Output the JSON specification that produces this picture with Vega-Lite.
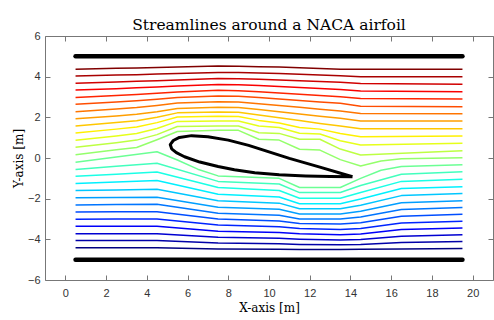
{
"$schema":"https://vega.github.io/schema/vega-lite/v6.json",
"width":448,"height":244,
"autosize":{"type":"none"},
"padding":{"left":45,"top":36,"right":1,"bottom":40},
"title":{"text":"Streamlines around a NACA airfoil","font":"DejaVu Serif","fontSize":15.5,"fontWeight":"normal","color":"#000","anchor":"middle","baseline":"alphabetic","offset":7,"dy":22},
"config":{"view":{"stroke":"#777","strokeWidth":1}},
"data":{"values":[
{"g":"s","k":"u01","x":0.5,"y":4.37},{"g":"s","k":"u01","x":2.5,"y":4.41},{"g":"s","k":"u01","x":3.5,"y":4.43},{"g":"s","k":"u01","x":4.5,"y":4.45},{"g":"s","k":"u01","x":5.5,"y":4.48},{"g":"s","k":"u01","x":7.5,"y":4.52},{"g":"s","k":"u01","x":8.5,"y":4.51},{"g":"s","k":"u01","x":9.5,"y":4.49},{"g":"s","k":"u01","x":10.5,"y":4.47},{"g":"s","k":"u01","x":11.5,"y":4.44},{"g":"s","k":"u01","x":12.5,"y":4.40},{"g":"s","k":"u01","x":13.5,"y":4.37},{"g":"s","k":"u01","x":14.5,"y":4.37},{"g":"s","k":"u01","x":19.5,"y":4.36},
{"g":"s","k":"u02","x":0.5,"y":4.03},{"g":"s","k":"u02","x":2.5,"y":4.08},{"g":"s","k":"u02","x":3.5,"y":4.10},{"g":"s","k":"u02","x":4.5,"y":4.13},{"g":"s","k":"u02","x":5.5,"y":4.16},{"g":"s","k":"u02","x":7.5,"y":4.21},{"g":"s","k":"u02","x":8.5,"y":4.20},{"g":"s","k":"u02","x":9.5,"y":4.18},{"g":"s","k":"u02","x":10.5,"y":4.15},{"g":"s","k":"u02","x":11.5,"y":4.12},{"g":"s","k":"u02","x":12.5,"y":4.08},{"g":"s","k":"u02","x":13.5,"y":4.04},{"g":"s","k":"u02","x":14.5,"y":4.00},{"g":"s","k":"u02","x":19.5,"y":3.99},
{"g":"s","k":"u03","x":0.5,"y":3.68},{"g":"s","k":"u03","x":2.5,"y":3.74},{"g":"s","k":"u03","x":3.5,"y":3.77},{"g":"s","k":"u03","x":4.5,"y":3.80},{"g":"s","k":"u03","x":5.5,"y":3.84},{"g":"s","k":"u03","x":7.5,"y":3.91},{"g":"s","k":"u03","x":8.5,"y":3.90},{"g":"s","k":"u03","x":9.5,"y":3.87},{"g":"s","k":"u03","x":10.5,"y":3.83},{"g":"s","k":"u03","x":11.5,"y":3.80},{"g":"s","k":"u03","x":12.5,"y":3.76},{"g":"s","k":"u03","x":13.5,"y":3.72},{"g":"s","k":"u03","x":14.5,"y":3.67},{"g":"s","k":"u03","x":19.5,"y":3.63},
{"g":"s","k":"u04","x":0.5,"y":3.34},{"g":"s","k":"u04","x":2.5,"y":3.41},{"g":"s","k":"u04","x":3.5,"y":3.45},{"g":"s","k":"u04","x":4.5,"y":3.49},{"g":"s","k":"u04","x":5.5,"y":3.54},{"g":"s","k":"u04","x":7.5,"y":3.62},{"g":"s","k":"u04","x":8.5,"y":3.60},{"g":"s","k":"u04","x":9.5,"y":3.56},{"g":"s","k":"u04","x":10.5,"y":3.52},{"g":"s","k":"u04","x":11.5,"y":3.47},{"g":"s","k":"u04","x":12.5,"y":3.42},{"g":"s","k":"u04","x":13.5,"y":3.37},{"g":"s","k":"u04","x":14.5,"y":3.30},{"g":"s","k":"u04","x":19.5,"y":3.26},
{"g":"s","k":"u05","x":0.5,"y":2.98},{"g":"s","k":"u05","x":2.5,"y":3.07},{"g":"s","k":"u05","x":3.5,"y":3.12},{"g":"s","k":"u05","x":4.5,"y":3.18},{"g":"s","k":"u05","x":5.5,"y":3.25},{"g":"s","k":"u05","x":7.5,"y":3.33},{"g":"s","k":"u05","x":8.5,"y":3.31},{"g":"s","k":"u05","x":9.5,"y":3.26},{"g":"s","k":"u05","x":10.5,"y":3.20},{"g":"s","k":"u05","x":11.5,"y":3.14},{"g":"s","k":"u05","x":12.5,"y":3.07},{"g":"s","k":"u05","x":13.5,"y":3.01},{"g":"s","k":"u05","x":14.5,"y":2.93},{"g":"s","k":"u05","x":19.5,"y":2.90},
{"g":"s","k":"u06","x":0.5,"y":2.64},{"g":"s","k":"u06","x":2.5,"y":2.75},{"g":"s","k":"u06","x":3.5,"y":2.82},{"g":"s","k":"u06","x":4.5,"y":2.89},{"g":"s","k":"u06","x":5.5,"y":2.97},{"g":"s","k":"u06","x":7.5,"y":3.05},{"g":"s","k":"u06","x":8.5,"y":3.04},{"g":"s","k":"u06","x":9.5,"y":2.97},{"g":"s","k":"u06","x":10.5,"y":2.90},{"g":"s","k":"u06","x":11.5,"y":2.83},{"g":"s","k":"u06","x":12.5,"y":2.76},{"g":"s","k":"u06","x":13.5,"y":2.69},{"g":"s","k":"u06","x":14.5,"y":2.55},{"g":"s","k":"u06","x":19.5,"y":2.52},
{"g":"s","k":"u07","x":0.5,"y":2.28},{"g":"s","k":"u07","x":2.5,"y":2.41},{"g":"s","k":"u07","x":3.5,"y":2.48},{"g":"s","k":"u07","x":4.5,"y":2.58},{"g":"s","k":"u07","x":5.5,"y":2.70},{"g":"s","k":"u07","x":7.5,"y":2.77},{"g":"s","k":"u07","x":8.5,"y":2.76},{"g":"s","k":"u07","x":9.5,"y":2.67},{"g":"s","k":"u07","x":10.5,"y":2.58},{"g":"s","k":"u07","x":11.5,"y":2.49},{"g":"s","k":"u07","x":12.5,"y":2.40},{"g":"s","k":"u07","x":13.5,"y":2.31},{"g":"s","k":"u07","x":14.5,"y":2.19},{"g":"s","k":"u07","x":19.5,"y":2.18},
{"g":"s","k":"u08","x":0.5,"y":1.93},{"g":"s","k":"u08","x":2.5,"y":2.07},{"g":"s","k":"u08","x":3.5,"y":2.15},{"g":"s","k":"u08","x":4.5,"y":2.28},{"g":"s","k":"u08","x":5.5,"y":2.44},{"g":"s","k":"u08","x":7.5,"y":2.49},{"g":"s","k":"u08","x":8.5,"y":2.48},{"g":"s","k":"u08","x":9.5,"y":2.38},{"g":"s","k":"u08","x":10.5,"y":2.27},{"g":"s","k":"u08","x":11.5,"y":2.16},{"g":"s","k":"u08","x":12.5,"y":2.05},{"g":"s","k":"u08","x":13.5,"y":1.95},{"g":"s","k":"u08","x":14.5,"y":1.82},{"g":"s","k":"u08","x":19.5,"y":1.82},
{"g":"s","k":"u09","x":0.5,"y":1.57},{"g":"s","k":"u09","x":2.5,"y":1.74},{"g":"s","k":"u09","x":3.5,"y":1.83},{"g":"s","k":"u09","x":4.5,"y":2.00},{"g":"s","k":"u09","x":5.5,"y":2.22},{"g":"s","k":"u09","x":7.5,"y":2.26},{"g":"s","k":"u09","x":8.5,"y":2.25},{"g":"s","k":"u09","x":9.5,"y":2.12},{"g":"s","k":"u09","x":10.5,"y":1.98},{"g":"s","k":"u09","x":11.5,"y":1.84},{"g":"s","k":"u09","x":12.5,"y":1.70},{"g":"s","k":"u09","x":13.5,"y":1.57},{"g":"s","k":"u09","x":14.5,"y":1.44},{"g":"s","k":"u09","x":19.5,"y":1.44},
{"g":"s","k":"u10","x":0.5,"y":1.23},{"g":"s","k":"u10","x":2.5,"y":1.42},{"g":"s","k":"u10","x":3.5,"y":1.52},{"g":"s","k":"u10","x":4.5,"y":1.74},{"g":"s","k":"u10","x":5.5,"y":2.02},{"g":"s","k":"u10","x":7.5,"y":2.05},{"g":"s","k":"u10","x":8.5,"y":2.04},{"g":"s","k":"u10","x":9.5,"y":1.85},{"g":"s","k":"u10","x":10.5,"y":1.72},{"g":"s","k":"u10","x":11.5,"y":1.50},{"g":"s","k":"u10","x":12.5,"y":1.42},{"g":"s","k":"u10","x":13.5,"y":1.21},{"g":"s","k":"u10","x":14.5,"y":1.05},{"g":"s","k":"u10","x":19.5,"y":1.08},
{"g":"s","k":"u11","x":0.5,"y":0.87},{"g":"s","k":"u11","x":2.5,"y":1.08},{"g":"s","k":"u11","x":3.5,"y":1.20},{"g":"s","k":"u11","x":4.5,"y":1.45},{"g":"s","k":"u11","x":5.5,"y":1.80},{"g":"s","k":"u11","x":7.5,"y":1.82},{"g":"s","k":"u11","x":8.5,"y":1.82},{"g":"s","k":"u11","x":9.5,"y":1.57},{"g":"s","k":"u11","x":10.5,"y":1.50},{"g":"s","k":"u11","x":11.5,"y":1.22},{"g":"s","k":"u11","x":12.5,"y":1.18},{"g":"s","k":"u11","x":13.5,"y":0.85},{"g":"s","k":"u11","x":14.5,"y":0.64},{"g":"s","k":"u11","x":19.5,"y":0.72},
{"g":"s","k":"u12","x":0.5,"y":0.53},{"g":"s","k":"u12","x":2.5,"y":0.75},{"g":"s","k":"u12","x":3.5,"y":0.88},{"g":"s","k":"u12","x":4.5,"y":1.15},{"g":"s","k":"u12","x":5.5,"y":1.55},{"g":"s","k":"u12","x":7.5,"y":1.57},{"g":"s","k":"u12","x":8.5,"y":1.57},{"g":"s","k":"u12","x":9.5,"y":1.24},{"g":"s","k":"u12","x":10.5,"y":1.21},{"g":"s","k":"u12","x":11.5,"y":0.92},{"g":"s","k":"u12","x":12.5,"y":0.92},{"g":"s","k":"u12","x":13.5,"y":0.44},{"g":"s","k":"u12","x":14.5,"y":0.15},{"g":"s","k":"u12","x":19.5,"y":0.36},
{"g":"s","k":"u13","x":0.5,"y":0.16},{"g":"s","k":"u13","x":2.5,"y":0.40},{"g":"s","k":"u13","x":3.5,"y":0.52},{"g":"s","k":"u13","x":4.5,"y":0.90},{"g":"s","k":"u13","x":5.5,"y":1.30},{"g":"s","k":"u13","x":7.5,"y":1.36},{"g":"s","k":"u13","x":8.5,"y":1.36},{"g":"s","k":"u13","x":9.5,"y":0.92},{"g":"s","k":"u13","x":10.5,"y":0.88},{"g":"s","k":"u13","x":11.5,"y":0.43},{"g":"s","k":"u13","x":12.5,"y":0.39},{"g":"s","k":"u13","x":13.5,"y":-0.08},{"g":"s","k":"u13","x":14.5,"y":-0.39},{"g":"s","k":"u13","x":15.5,"y":-0.15},{"g":"s","k":"u13","x":16.5,"y":-0.04},{"g":"s","k":"u13","x":19.5,"y":0.01},
{"g":"s","k":"l01","x":0.5,"y":-0.21},{"g":"s","k":"l01","x":2.5,"y":0.05},{"g":"s","k":"l01","x":4.5,"y":0.31},{"g":"s","k":"l01","x":5.5,"y":-0.10},{"g":"s","k":"l01","x":6.5,"y":-0.55},{"g":"s","k":"l01","x":7.5,"y":-0.88},{"g":"s","k":"l01","x":10.5,"y":-1.00},{"g":"s","k":"l01","x":11.5,"y":-1.45},{"g":"s","k":"l01","x":13.5,"y":-1.45},{"g":"s","k":"l01","x":14.5,"y":-1.00},{"g":"s","k":"l01","x":15.5,"y":-0.60},{"g":"s","k":"l01","x":16.5,"y":-0.42},{"g":"s","k":"l01","x":19.5,"y":-0.33},
{"g":"s","k":"l02","x":0.5,"y":-0.56},{"g":"s","k":"l02","x":2.5,"y":-0.41},{"g":"s","k":"l02","x":4.5,"y":-0.26},{"g":"s","k":"l02","x":7.5,"y":-1.15},{"g":"s","k":"l02","x":10.5,"y":-1.28},{"g":"s","k":"l02","x":11.5,"y":-1.70},{"g":"s","k":"l02","x":13.5,"y":-1.70},{"g":"s","k":"l02","x":14.5,"y":-1.35},{"g":"s","k":"l02","x":16.5,"y":-0.80},{"g":"s","k":"l02","x":19.5,"y":-0.68},
{"g":"s","k":"l03","x":0.5,"y":-0.90},{"g":"s","k":"l03","x":2.5,"y":-0.80},{"g":"s","k":"l03","x":4.5,"y":-0.69},{"g":"s","k":"l03","x":7.5,"y":-1.45},{"g":"s","k":"l03","x":10.5,"y":-1.60},{"g":"s","k":"l03","x":11.5,"y":-1.98},{"g":"s","k":"l03","x":13.5,"y":-1.98},{"g":"s","k":"l03","x":14.5,"y":-1.70},{"g":"s","k":"l03","x":16.5,"y":-1.15},{"g":"s","k":"l03","x":19.5,"y":-1.05},
{"g":"s","k":"l04","x":0.5,"y":-1.26},{"g":"s","k":"l04","x":2.5,"y":-1.18},{"g":"s","k":"l04","x":4.5,"y":-1.11},{"g":"s","k":"l04","x":7.5,"y":-1.78},{"g":"s","k":"l04","x":10.5,"y":-1.92},{"g":"s","k":"l04","x":11.5,"y":-2.25},{"g":"s","k":"l04","x":13.5,"y":-2.25},{"g":"s","k":"l04","x":14.5,"y":-2.02},{"g":"s","k":"l04","x":16.5,"y":-1.50},{"g":"s","k":"l04","x":19.5,"y":-1.41},
{"g":"s","k":"l05","x":0.5,"y":-1.60},{"g":"s","k":"l05","x":2.5,"y":-1.57},{"g":"s","k":"l05","x":4.5,"y":-1.54},{"g":"s","k":"l05","x":7.5,"y":-2.10},{"g":"s","k":"l05","x":10.5,"y":-2.22},{"g":"s","k":"l05","x":11.5,"y":-2.50},{"g":"s","k":"l05","x":13.5,"y":-2.50},{"g":"s","k":"l05","x":14.5,"y":-2.32},{"g":"s","k":"l05","x":16.5,"y":-1.85},{"g":"s","k":"l05","x":19.5,"y":-1.75},
{"g":"s","k":"l06","x":0.5,"y":-1.95},{"g":"s","k":"l06","x":2.5,"y":-1.94},{"g":"s","k":"l06","x":4.5,"y":-1.93},{"g":"s","k":"l06","x":7.5,"y":-2.42},{"g":"s","k":"l06","x":10.5,"y":-2.52},{"g":"s","k":"l06","x":11.5,"y":-2.75},{"g":"s","k":"l06","x":13.5,"y":-2.75},{"g":"s","k":"l06","x":14.5,"y":-2.62},{"g":"s","k":"l06","x":16.5,"y":-2.20},{"g":"s","k":"l06","x":19.5,"y":-2.10},
{"g":"s","k":"l07","x":0.5,"y":-2.31},{"g":"s","k":"l07","x":2.5,"y":-2.29},{"g":"s","k":"l07","x":4.5,"y":-2.28},{"g":"s","k":"l07","x":7.5,"y":-2.72},{"g":"s","k":"l07","x":10.5,"y":-2.82},{"g":"s","k":"l07","x":11.5,"y":-3.00},{"g":"s","k":"l07","x":13.5,"y":-3.00},{"g":"s","k":"l07","x":14.5,"y":-2.90},{"g":"s","k":"l07","x":16.5,"y":-2.53},{"g":"s","k":"l07","x":19.5,"y":-2.44},
{"g":"s","k":"l08","x":0.5,"y":-2.65},{"g":"s","k":"l08","x":2.5,"y":-2.64},{"g":"s","k":"l08","x":4.5,"y":-2.64},{"g":"s","k":"l08","x":7.5,"y":-3.00},{"g":"s","k":"l08","x":10.5,"y":-3.10},{"g":"s","k":"l08","x":11.5,"y":-3.22},{"g":"s","k":"l08","x":13.5,"y":-3.25},{"g":"s","k":"l08","x":14.5,"y":-3.18},{"g":"s","k":"l08","x":16.5,"y":-2.87},{"g":"s","k":"l08","x":19.5,"y":-2.77},
{"g":"s","k":"l09","x":0.5,"y":-3.01},{"g":"s","k":"l09","x":2.5,"y":-3.00},{"g":"s","k":"l09","x":4.5,"y":-3.00},{"g":"s","k":"l09","x":7.5,"y":-3.30},{"g":"s","k":"l09","x":10.5,"y":-3.38},{"g":"s","k":"l09","x":11.5,"y":-3.47},{"g":"s","k":"l09","x":13.5,"y":-3.52},{"g":"s","k":"l09","x":14.5,"y":-3.47},{"g":"s","k":"l09","x":16.5,"y":-3.20},{"g":"s","k":"l09","x":19.5,"y":-3.11},
{"g":"s","k":"l10","x":0.5,"y":-3.36},{"g":"s","k":"l10","x":2.5,"y":-3.36},{"g":"s","k":"l10","x":4.5,"y":-3.36},{"g":"s","k":"l10","x":7.5,"y":-3.60},{"g":"s","k":"l10","x":10.5,"y":-3.66},{"g":"s","k":"l10","x":11.5,"y":-3.72},{"g":"s","k":"l10","x":13.5,"y":-3.78},{"g":"s","k":"l10","x":14.5,"y":-3.74},{"g":"s","k":"l10","x":16.5,"y":-3.52},{"g":"s","k":"l10","x":19.5,"y":-3.44},
{"g":"s","k":"l11","x":0.5,"y":-3.72},{"g":"s","k":"l11","x":2.5,"y":-3.72},{"g":"s","k":"l11","x":4.5,"y":-3.72},{"g":"s","k":"l11","x":7.5,"y":-3.90},{"g":"s","k":"l11","x":10.5,"y":-3.95},{"g":"s","k":"l11","x":11.5,"y":-3.99},{"g":"s","k":"l11","x":13.5,"y":-4.03},{"g":"s","k":"l11","x":14.5,"y":-4.01},{"g":"s","k":"l11","x":16.5,"y":-3.85},{"g":"s","k":"l11","x":19.5,"y":-3.78},
{"g":"s","k":"l12","x":0.5,"y":-4.06},{"g":"s","k":"l12","x":2.5,"y":-4.06},{"g":"s","k":"l12","x":4.5,"y":-4.06},{"g":"s","k":"l12","x":7.5,"y":-4.18},{"g":"s","k":"l12","x":10.5,"y":-4.22},{"g":"s","k":"l12","x":11.5,"y":-4.25},{"g":"s","k":"l12","x":13.5,"y":-4.27},{"g":"s","k":"l12","x":14.5,"y":-4.26},{"g":"s","k":"l12","x":16.5,"y":-4.16},{"g":"s","k":"l12","x":19.5,"y":-4.11},
{"g":"s","k":"l13","x":0.5,"y":-4.42},{"g":"s","k":"l13","x":2.5,"y":-4.42},{"g":"s","k":"l13","x":4.5,"y":-4.42},{"g":"s","k":"l13","x":7.5,"y":-4.47},{"g":"s","k":"l13","x":10.5,"y":-4.49},{"g":"s","k":"l13","x":11.5,"y":-4.50},{"g":"s","k":"l13","x":13.5,"y":-4.50},{"g":"s","k":"l13","x":14.5,"y":-4.49},{"g":"s","k":"l13","x":16.5,"y":-4.47},{"g":"s","k":"l13","x":19.5,"y":-4.45},
{"g":"w","k":"w1","x":0.5,"y":5},{"g":"w","k":"w1","x":19.5,"y":5},
{"g":"w","k":"w2","x":0.5,"y":-5},{"g":"w","k":"w2","x":19.5,"y":-5},
{"g":"a","k":"a","o":0,"x":14.1,"y":-0.92},{"g":"a","k":"a","o":1,"x":12.5,"y":-0.45},{"g":"a","k":"a","o":2,"x":11.0,"y":-0.02},{"g":"a","k":"a","o":3,"x":10.0,"y":0.30},{"g":"a","k":"a","o":4,"x":9.0,"y":0.62},{"g":"a","k":"a","o":5,"x":8.0,"y":0.88},{"g":"a","k":"a","o":6,"x":7.0,"y":1.05},{"g":"a","k":"a","o":7,"x":6.2,"y":1.10},{"g":"a","k":"a","o":8,"x":5.6,"y":1.01},{"g":"a","k":"a","o":9,"x":5.3,"y":0.86},{"g":"a","k":"a","o":10,"x":5.15,"y":0.66},{"g":"a","k":"a","o":11,"x":5.22,"y":0.45},{"g":"a","k":"a","o":12,"x":5.45,"y":0.26},{"g":"a","k":"a","o":13,"x":5.85,"y":0.06},{"g":"a","k":"a","o":14,"x":6.6,"y":-0.20},{"g":"a","k":"a","o":15,"x":7.5,"y":-0.42},{"g":"a","k":"a","o":16,"x":8.3,"y":-0.58},{"g":"a","k":"a","o":17,"x":9.3,"y":-0.72},{"g":"a","k":"a","o":18,"x":10.5,"y":-0.82},{"g":"a","k":"a","o":19,"x":11.8,"y":-0.88},{"g":"a","k":"a","o":20,"x":13.0,"y":-0.91},{"g":"a","k":"a","o":21,"x":14.1,"y":-0.92}
]},
"resolve":{"axis":{"x":"independent","y":"independent"}},
"layer":[
{"transform":[{"filter":"datum.g==='s'"}],
 "mark":{"type":"line","strokeWidth":1.5,"strokeJoin":"round"},
 "encoding":{
  "x":{"field":"x","type":"quantitative","scale":{"domain":[-1,21],"nice":false,"zero":false},
   "axis":{"orient":"bottom","values":[0,2,4,6,8,10,12,14,16,18,20],"tickSize":-5,"tickColor":"#777","domain":false,"grid":false,"labelPadding":12,"labelFont":"Liberation Sans","labelFontSize":11,"labelColor":"#333","labelFlush":false,"labelOverlap":false,"title":"X-axis [m]","titleFont":"DejaVu Serif","titleFontSize":12,"titleFontWeight":"normal","titleColor":"#000","titleX":224,"titleY":31,"titleAlign":"center","titleBaseline":"alphabetic"}},
  "y":{"field":"y","type":"quantitative","scale":{"domain":[-6,6],"nice":false,"zero":false},
   "axis":{"orient":"left","values":[-6,-4,-2,0,2,4,6],"tickSize":-5,"tickColor":"#777","domain":false,"grid":false,"labelPadding":10,"labelFont":"Liberation Sans","labelFontSize":11,"labelColor":"#333","labelFlush":false,"labelOverlap":false,"title":"Y-axis [m]","titleFont":"DejaVu Serif","titleFontSize":12,"titleFontWeight":"normal","titleColor":"#000","titleX":-27,"titleY":122,"titleAngle":270,"titleAlign":"center","titleBaseline":"middle"}},
  "color":{"field":"k","type":"nominal","legend":null,"scale":{
   "domain":["l13","l12","l11","l10","l09","l08","l07","l06","l05","l04","l03","l02","l01","u13","u12","u11","u10","u09","u08","u07","u06","u05","u04","u03","u02","u01"],
   "range":["#000080","#0000A8","#0000D1","#0000FA","#0024FF","#004DFF","#0075FF","#009EFF","#00C7FF","#00F0FF","#1AFFE6","#42FFBD","#6BFF94","#94FF6B","#BDFF42","#E6FF1A","#FFF000","#FFC700","#FF9E00","#FF7500","#FF4D00","#FF2400","#FA0000","#D10000","#A80000","#800000"]}}
 }},
{"transform":[{"filter":"datum.g==='w'"}],
 "mark":{"type":"line","strokeWidth":4.5,"color":"#000","strokeCap":"round"},
 "encoding":{
  "x":{"field":"x","type":"quantitative","axis":{"orient":"top","values":[0,2,4,6,8,10,12,14,16,18,20],"tickSize":-5,"tickColor":"#777","domain":false,"grid":false,"labels":false,"title":null,"minExtent":0,"maxExtent":0}},
  "y":{"field":"y","type":"quantitative","axis":{"orient":"right","values":[-6,-4,-2,0,2,4,6],"tickSize":-5,"tickColor":"#777","domain":false,"grid":false,"labels":false,"title":null,"minExtent":0,"maxExtent":0}},
  "detail":{"field":"k","type":"nominal"}
 }},
{"transform":[{"filter":"datum.g==='a'"}],
 "mark":{"type":"line","strokeWidth":3,"color":"#000","strokeJoin":"round"},
 "encoding":{
  "x":{"field":"x","type":"quantitative","axis":null},
  "y":{"field":"y","type":"quantitative","axis":null},
  "order":{"field":"o","type":"quantitative"}
 }}
]
}
